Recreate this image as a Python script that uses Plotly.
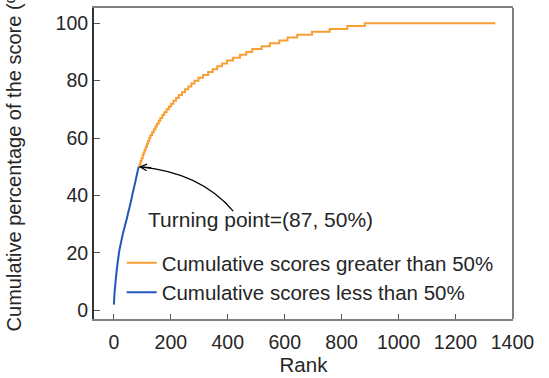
import plotly.graph_objects as go

# ---- data ----
# part below 50 % (smooth curve)
low_rank = [0, 2, 5, 8, 11, 15, 19, 25, 31, 38, 46, 53, 60, 66, 73, 80, 87]
low_pct = [2, 5.8, 9.2, 12.3, 15, 18, 20.8, 23.7, 26.5, 29.2, 32.3, 35.2, 38, 40.9, 43.8, 47, 50]

# part above 50 % (integer-percent steps): rank where each level is reached
high_rank = [87, 90, 94, 97, 101, 104, 108, 112, 116, 120, 124, 128, 134, 140, 146,
             151, 157, 163, 170, 177, 185, 193, 201, 209, 218, 228, 239, 250, 261,
             272, 283, 297, 313, 331, 347, 363, 380, 397, 418, 443, 465, 486, 519,
             548, 581, 610, 644, 696, 758, 820, 881, 1340]
high_pct = [50, 51, 52, 53, 54, 55, 56, 57, 58, 59, 60, 61, 62, 63, 64, 65, 66, 67,
            68, 69, 70, 71, 72, 73, 74, 75, 76, 77, 78, 79, 80, 81, 82, 83, 84, 85,
            86, 87, 88, 89, 90, 91, 92, 93, 94, 95, 96, 97, 98, 99, 100, 100]

tp_rank, tp_pct = 87, 50
x_ticks = [0, 200, 400, 600, 800, 1000, 1200, 1400]
y_ticks = [0, 20, 40, 60, 80, 100]

ORANGE = "#F89E34"
BLUE = "#2257B5"
FONT = "Arial, Liberation Sans, sans-serif"
TXT = "#262626"

fig = go.Figure()
fig.add_trace(go.Scatter(x=high_rank, y=high_pct, mode="lines", line_shape="hv",
                         line=dict(color=ORANGE, width=2),
                         name="Cumulative scores greater than 50%"))
fig.add_trace(go.Scatter(x=low_rank, y=low_pct, mode="lines", line_shape="spline",
                         line=dict(color=BLUE, width=2, smoothing=0.8),
                         name="Cumulative scores less than 50%"))

# curved arrow body
end_x, end_y = 419, 34.6
ctrl_x, ctrl_y = 305, 48
fig.add_shape(type="path", xref="x", yref="y",
              path=f"M {tp_rank + 6},{tp_pct} Q {ctrl_x},{ctrl_y} {end_x},{end_y}",
              line=dict(color="black", width=1.2))
# arrow head
fig.add_annotation(x=tp_rank, y=tp_pct, xref="x", yref="y", text="",
                   showarrow=True, ax=14, ay=1, arrowhead=5, arrowsize=1.1,
                   arrowwidth=1.2, arrowcolor="black", standoff=0)
fig.add_annotation(x=0.398, y=0.3185, xref="paper", yref="paper",
                   text=f"Turning point=({tp_rank}, {tp_pct}%)",
                   showarrow=False, xanchor="center", yanchor="middle",
                   font=dict(family=FONT, size=21, color=TXT))
# y title (offset as in the reference, clipped at the top)
fig.add_annotation(x=-0.19, y=-0.045, xref="paper", yref="paper",
                   text="Cumulative percentage of the score (%)", textangle=-90,
                   showarrow=False, xanchor="center", yanchor="bottom",
                   font=dict(family=FONT, size=20, color=TXT))
# right frame line
fig.add_shape(type="line", xref="paper", yref="paper", x0=1, x1=1, y0=0, y1=1,
              line=dict(color="#808080", width=2))

fig.update_xaxes(range=[-70, 1402], tickvals=x_ticks, ticks="inside", ticklen=5,
                 tickcolor="#555", tickwidth=1, showgrid=False, zeroline=False,
                 showline=True, linecolor="#808080", linewidth=2, mirror=True,
                 ticklabelstandoff=5,
                 tickfont=dict(family=FONT, size=19.5, color=TXT),
                 title=dict(text="Rank", font=dict(family=FONT, size=20.5, color=TXT),
                            standoff=4))
fig.update_yaxes(range=[-3, 105.3], tickvals=y_ticks, ticks="inside", ticklen=6,
                 tickcolor="#555", tickwidth=1, showgrid=False, zeroline=False,
                 showline=True, linecolor="#333333", linewidth=2,
                 tickfont=dict(family=FONT, size=19.5, color=TXT))

fig.update_layout(
    width=549, height=378,
    margin=dict(l=94, r=36, t=6, b=59, pad=0),
    plot_bgcolor="white", paper_bgcolor="white",
    showlegend=True,
    legend=dict(x=0.066, y=0.245, xanchor="left", yanchor="top",
                bgcolor="rgba(0,0,0,0)", borderwidth=0,
                font=dict(family=FONT, size=20.5, color=TXT),
                tracegroupgap=0, itemwidth=30),
)

fig.write_html("out.html")
